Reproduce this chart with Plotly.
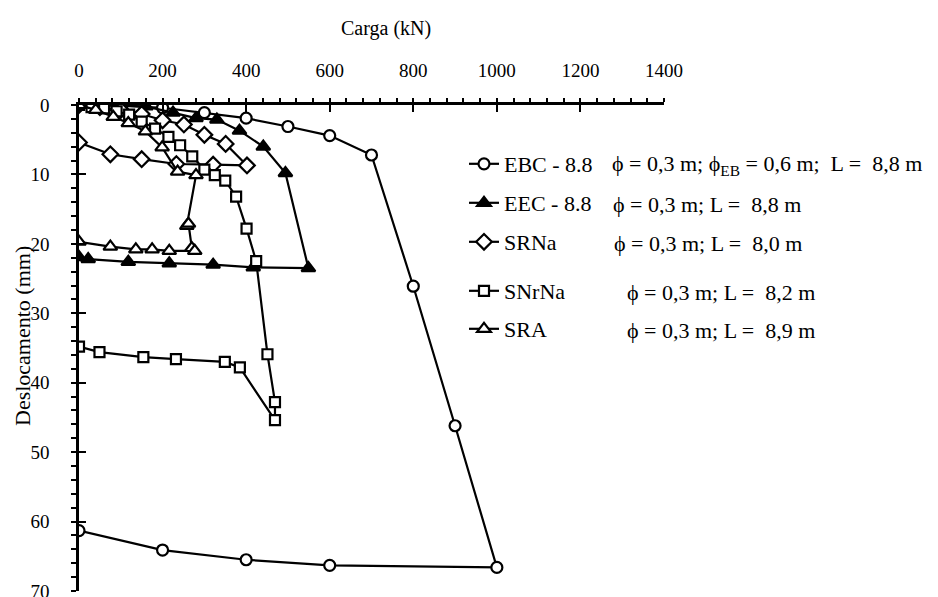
import plotly.graph_objects as go

# ---------------- data ----------------
ebc_x = [0, 100, 200, 300, 400, 500, 600, 700, 800, 900, 1000, 600, 400, 200, 0]
ebc_y = [0, 0.1, 0.4, 1.1, 1.9, 3.1, 4.4, 7.2, 26.1, 46.2, 66.6, 66.3, 65.5, 64.1, 61.3]

eec_x = [0, 50, 100, 160, 225, 280, 330, 384, 441, 494, 549, 417, 321, 216, 118, 22, 0]
eec_y = [0, 0, 0.1, 0.2, 1.1, 1.9, 2.1, 3.7, 6.0, 9.8, 23.5, 23.4, 23.0, 22.8, 22.6, 22.2, 21.9]

srna_x = [0, 50, 100, 150, 200, 251, 300, 351, 402, 321, 233, 150, 75, 0]
srna_y = [0, 0.3, 0.7, 1.3, 2.2, 2.8, 4.3, 5.6, 8.7, 8.6, 8.5, 7.8, 7.1, 5.4]

snrna_x = [0, 30, 60, 90, 120, 150, 182, 214, 242, 271, 300, 325, 350, 376, 401, 424,
           451, 469, 469, 385, 349, 232, 154, 49, 0]
snrna_y = [0, 0.3, 0.5, 0.9, 1.4, 2.4, 3.4, 4.6, 5.8, 7.4, 9.3, 10.1, 10.9, 13.2, 17.8, 22.5,
           35.9, 42.8, 45.4, 37.8, 37.0, 36.6, 36.3, 35.6, 34.8]

sra_x = [0, 40, 82, 118, 159, 199, 236, 280, 258, 262, 270, 277, 216, 175, 136, 75, 0]
sra_y = [0, 0.7, 1.7, 2.6, 3.8, 6.1, 9.6, 10.1, 17.4, 17.1, 20.6, 21.0, 21.0, 20.8, 20.8, 20.4, 19.7]

series_names = ["EBC - 8.8", "EEC - 8.8", "SRNa", "SNrNa", "SRA"]
series_desc = [
    "ϕ = 0,3 m; ϕ<sub>EB</sub> = 0,6 m;\u00a0 L = \u00a08,8 m",
    "ϕ = 0,3 m; L = \u00a08,8 m",
    "ϕ = 0,3 m; L = \u00a08,0 m",
    "ϕ = 0,3 m; L = \u00a08,2 m",
    "ϕ = 0,3 m; L = \u00a08,9 m",
]

x_range = [0, 1400]
y_range = [70, 0]
x_major = 200
x_minor = 40
y_major = 10
y_minor = 2

# ---------------- layout helpers (pixel geometry, page coords) ----------------
OFF = 8                      # default body margin of the html page
W, H = 938 - OFF, 597 - OFF  # figure size so it fits the window
L, T = 79, 105               # plot-area origin in window pixels
PW, PH = 585, 486
FONT = "Liberation Serif"


def px2paper_x(px):
    return (px - L) / PW


def px2paper_y(py):
    return (T + PH - py) / PH


styles = [
    dict(symbol="circle", size=11, color="white"),
    dict(symbol="triangle-up", size=12, color="black"),
    dict(symbol="diamond", size=12, color="white"),
    dict(symbol="square", size=10, color="white"),
    dict(symbol="triangle-up", size=12, color="white"),
]
xs = [ebc_x, eec_x, srna_x, snrna_x, sra_x]
ys = [ebc_y, eec_y, srna_y, snrna_y, sra_y]

row_y = [164, 203, 242, 291, 329]
desc_x = [610, 611, 612, 625, 625]
legend_left = 464
LEG_SIZE = 22

fig = go.Figure()
for i in range(5):
    st = styles[i]
    fig.add_trace(go.Scatter(
        x=xs[i], y=ys[i], mode="lines+markers", name=series_names[i],
        line=dict(color="black", width=2.2),
        marker=dict(symbol=st["symbol"], size=st["size"], color=st["color"],
                    line=dict(color="black", width=2.2)),
        legend="legend" if i == 0 else f"legend{i+1}",
    ))

# empty trace to host the overlay axes (inner half of crossing major ticks)
fig.add_trace(go.Scatter(x=[None], y=[None], xaxis="x2", yaxis="y2",
                         showlegend=False, hoverinfo="skip"))

axis_font = dict(family=FONT, size=19, color="black")

fig.update_layout(
    width=W, height=H,
    margin=dict(l=L - OFF, r=W - (L - OFF) - PW, t=T - OFF, b=H - (T - OFF) - PH,
                autoexpand=False),
    paper_bgcolor="white", plot_bgcolor="white",
    font=dict(family=FONT, size=19, color="black"),
    showlegend=True,
    xaxis=dict(
        range=x_range, side="top", showgrid=False, zeroline=False, automargin=False,
        showline=True, linecolor="black", linewidth=2.5,
        ticks="outside", ticklen=4, tickwidth=2, tickcolor="black",
        tick0=0, dtick=x_major, tickfont=axis_font, ticklabelstandoff=14,
        ticklabeloverflow="allow",
        minor=dict(ticks="outside", ticklen=4, tickwidth=1.5, tickcolor="black",
                   tick0=0, dtick=x_minor, showgrid=False),
    ),
    yaxis=dict(
        range=y_range, showgrid=False, zeroline=False, automargin=False,
        showline=True, linecolor="black", linewidth=2.5,
        ticks="outside", ticklen=5, tickwidth=2, tickcolor="black",
        tick0=0, dtick=y_major, tickfont=axis_font, ticklabelstandoff=18,
        ticklabeloverflow="allow",
        minor=dict(ticks="outside", ticklen=5, tickwidth=1.5, tickcolor="black",
                   tick0=0, dtick=y_minor, showgrid=False),
    ),
    xaxis2=dict(
        range=x_range, overlaying="x", side="top", anchor="y2", automargin=False,
        showgrid=False, zeroline=False, showline=False, showticklabels=False,
        ticks="inside", ticklen=7, tickwidth=2, tickcolor="black",
        tick0=0, dtick=x_major,
    ),
    yaxis2=dict(
        range=y_range, overlaying="y", side="left", anchor="x2", automargin=False,
        showgrid=False, zeroline=False, showline=False, showticklabels=False,
        ticks="inside", ticklen=7, tickwidth=2, tickcolor="black",
        tick0=0, dtick=y_major,
    ),
)

# one legend per series so rows sit at the reference positions
for i in range(5):
    key = "legend" if i == 0 else f"legend{i+1}"
    fig.update_layout({key: dict(
        x=px2paper_x(legend_left), y=px2paper_y(row_y[i]),
        xanchor="left", yanchor="middle",
        bgcolor="rgba(0,0,0,0)", borderwidth=0,
        font=dict(family=FONT, size=LEG_SIZE, color="black"),
        itemwidth=30,
    )})
    fig.add_annotation(
        text=series_desc[i], xref="paper", yref="paper",
        x=px2paper_x(desc_x[i]), y=px2paper_y(row_y[i] + 1),
        xanchor="left", yanchor="middle", showarrow=False,
        font=dict(family=FONT, size=LEG_SIZE, color="black"),
    )

# axis titles
fig.add_annotation(text="Carga (kN)", xref="paper", yref="paper",
                   x=px2paper_x(386), y=px2paper_y(28), xanchor="center", yanchor="middle",
                   showarrow=False, font=dict(family=FONT, size=20, color="black"))
fig.add_annotation(text="Deslocamento (mm)", xref="paper", yref="paper",
                   x=px2paper_x(22), y=px2paper_y(336), xanchor="center", yanchor="middle",
                   textangle=-90, showarrow=False,
                   font=dict(family=FONT, size=22, color="black"))

fig.write_html("out.html")
